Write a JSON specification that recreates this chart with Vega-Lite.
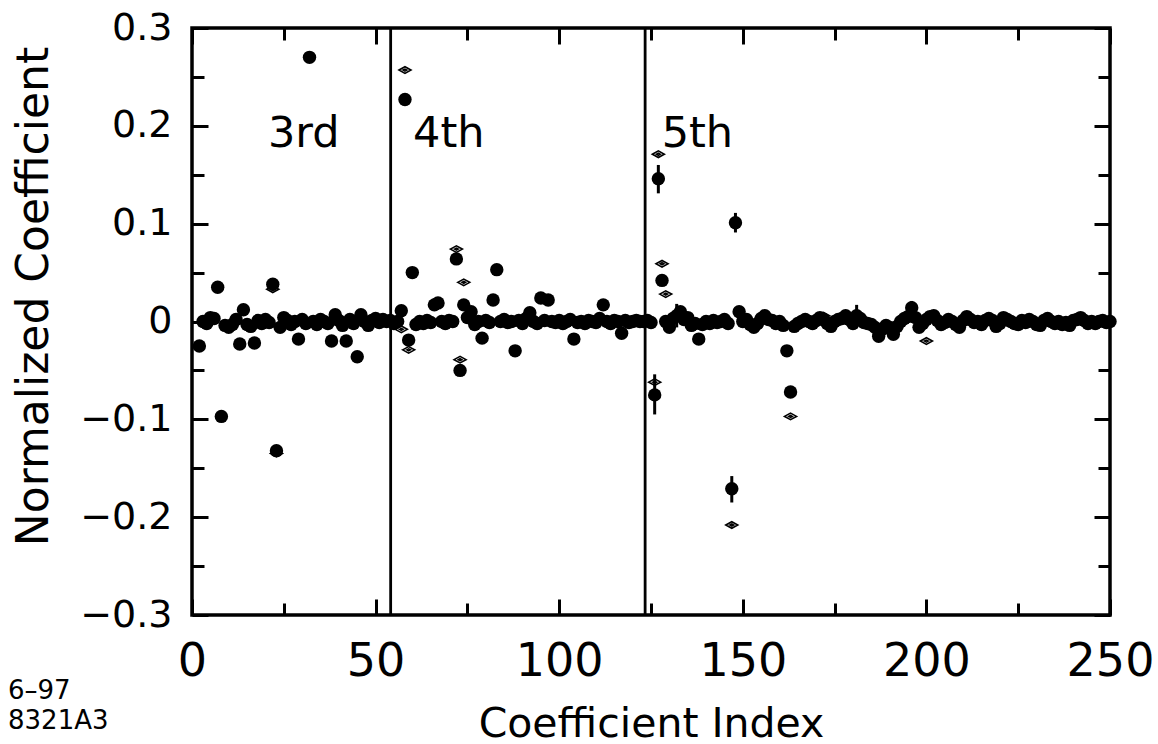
{
"$schema": "https://vega.github.io/schema/vega-lite/v6.json",
"width": 918, "height": 587,
"autosize": "none",
"padding": {"left": 192, "top": 28, "right": 48, "bottom": 129},
"background": "white",
"config": {
  "font": "DejaVu Sans",
  "view": {"stroke": "black", "strokeWidth": 3.5},
  "axis": {"grid": false, "domain": false, "labelColor": "black", "titleColor": "black", "tickColor": "black", "tickWidth": 3, "labelFont": "DejaVu Sans", "titleFont": "DejaVu Sans", "titleFontWeight": "normal", "zindex": 1, "labelFlush": false, "labelOverlap": false, "labelBound": false}
},
"datasets": {
  "coef": [
    {"i":2,"v":-0.025},{"i":3,"v":0.000},{"i":4,"v":-0.002},{"i":5,"v":0.004},{"i":6,"v":0.003},{"i":7,"v":0.035},{"i":8,"v":-0.097},{"i":9,"v":-0.004},{"i":10,"v":-0.006},
    {"i":11,"v":-0.003},{"i":12,"v":0.002},{"i":13,"v":-0.023},{"i":14,"v":0.012},{"i":15,"v":-0.003},{"i":16,"v":-0.005},{"i":17,"v":-0.022},{"i":18,"v":0.001},{"i":19,"v":-0.002},{"i":20,"v":0.002},
    {"i":21,"v":-0.001},{"i":22,"v":0.038},{"i":23,"v":-0.132},{"i":24,"v":-0.006},{"i":25,"v":0.004},{"i":26,"v":0.001},{"i":27,"v":-0.003},{"i":28,"v":0.000},{"i":29,"v":-0.018},{"i":30,"v":0.002},
    {"i":31,"v":-0.002},{"i":32,"v":0.270},{"i":33,"v":0.000},{"i":34,"v":-0.003},{"i":35,"v":0.002},{"i":36,"v":0.000},{"i":37,"v":-0.002},{"i":38,"v":-0.020},{"i":39,"v":0.007},{"i":40,"v":0.001},
    {"i":41,"v":-0.004},{"i":42,"v":-0.020},{"i":43,"v":0.002},{"i":44,"v":-0.002},{"i":45,"v":-0.036},{"i":46,"v":0.007},{"i":47,"v":0.000},{"i":48,"v":-0.004},{"i":49,"v":0.001},{"i":50,"v":0.003},
    {"i":51,"v":-0.001},{"i":52,"v":0.002},{"i":53,"v":0.000},{"i":54,"v":0.001},{"i":55,"v":-0.002},{"i":56,"v":0.000},{"i":57,"v":0.011},{"i":58,"v":0.227},{"i":59,"v":-0.019},{"i":60,"v":0.050},
    {"i":61,"v":-0.003},{"i":62,"v":0.000},{"i":63,"v":-0.002},{"i":64,"v":0.001},{"i":65,"v":-0.001},{"i":66,"v":0.017},{"i":67,"v":0.019},{"i":68,"v":0.000},{"i":69,"v":-0.002},{"i":70,"v":0.001},
    {"i":71,"v":0.000},{"i":72,"v":0.064},{"i":73,"v":-0.050},{"i":74,"v":0.017},{"i":75,"v":0.004},{"i":76,"v":0.010},{"i":77,"v":-0.003},{"i":78,"v":0.000},{"i":79,"v":-0.017},{"i":80,"v":0.001},
    {"i":81,"v":-0.001},{"i":82,"v":0.022},{"i":83,"v":0.053},{"i":84,"v":0.000},{"i":85,"v":0.002},{"i":86,"v":-0.001},{"i":87,"v":0.000},{"i":88,"v":-0.030},{"i":89,"v":0.001},{"i":90,"v":-0.002},
    {"i":91,"v":0.003},{"i":92,"v":0.009},{"i":93,"v":0.000},{"i":94,"v":-0.002},{"i":95,"v":0.024},{"i":96,"v":0.001},{"i":97,"v":0.022},{"i":98,"v":0.000},{"i":99,"v":-0.001},{"i":100,"v":0.001},
    {"i":101,"v":-0.002},{"i":102,"v":0.000},{"i":103,"v":0.002},{"i":104,"v":-0.018},{"i":105,"v":-0.001},{"i":106,"v":0.000},{"i":107,"v":-0.002},{"i":108,"v":0.001},{"i":109,"v":0.000},{"i":110,"v":-0.001},
    {"i":111,"v":0.003},{"i":112,"v":0.017},{"i":113,"v":0.000},{"i":114,"v":-0.002},{"i":115,"v":0.001},{"i":116,"v":0.000},{"i":117,"v":-0.012},{"i":118,"v":0.001},{"i":119,"v":-0.001},{"i":120,"v":0.000},
    {"i":121,"v":0.001},{"i":122,"v":0.000},{"i":123,"v":0.000},{"i":124,"v":0.001},{"i":125,"v":-0.001},
    {"i":126,"v":-0.075,"lo":-0.095,"hi":-0.054},{"i":127,"v":0.146,"lo":0.131,"hi":0.160},{"i":128,"v":0.042},{"i":129,"v":0.000},{"i":130,"v":-0.006},
    {"i":131,"v":0.003},{"i":132,"v":0.006,"lo":-0.006,"hi":0.018},{"i":133,"v":0.010},{"i":134,"v":0.002},{"i":135,"v":0.004},{"i":136,"v":-0.004},{"i":137,"v":-0.002},{"i":138,"v":-0.018},{"i":139,"v":-0.003},{"i":140,"v":0.000},
    {"i":141,"v":-0.002},{"i":142,"v":0.001},{"i":143,"v":-0.001},{"i":144,"v":0.000},{"i":145,"v":0.002},{"i":146,"v":-0.002},{"i":147,"v":-0.171,"lo":-0.185,"hi":-0.158},{"i":148,"v":0.101,"lo":0.091,"hi":0.111},{"i":149,"v":0.010},{"i":150,"v":0.000},
    {"i":151,"v":0.002},{"i":152,"v":-0.003},{"i":153,"v":-0.006},{"i":154,"v":-0.002},{"i":155,"v":0.003},{"i":156,"v":0.006},{"i":157,"v":0.002},{"i":158,"v":0.001},{"i":159,"v":-0.002},{"i":160,"v":0.000},
    {"i":161,"v":-0.004},{"i":162,"v":-0.030},{"i":163,"v":-0.072},{"i":164,"v":-0.005},{"i":165,"v":-0.002},{"i":166,"v":0.000},{"i":167,"v":0.002},{"i":168,"v":0.000},{"i":169,"v":-0.002},{"i":170,"v":0.001},
    {"i":171,"v":0.004},{"i":172,"v":0.002},{"i":173,"v":-0.002},{"i":174,"v":-0.005},{"i":175,"v":0.000},{"i":176,"v":0.002},{"i":177,"v":0.003},{"i":178,"v":0.006},{"i":179,"v":0.002},{"i":180,"v":-0.002},
    {"i":181,"v":0.006,"lo":-0.004,"hi":0.017},{"i":182,"v":0.003},{"i":183,"v":-0.001},{"i":184,"v":-0.002},{"i":185,"v":-0.003},{"i":186,"v":-0.006},{"i":187,"v":-0.015},{"i":188,"v":-0.008},{"i":189,"v":-0.004},{"i":190,"v":-0.006},
    {"i":191,"v":-0.013},{"i":192,"v":-0.005},{"i":193,"v":0.000},{"i":194,"v":0.003},{"i":195,"v":0.005},{"i":196,"v":0.014,"lo":0.006,"hi":0.021},{"i":197,"v":0.004},{"i":198,"v":-0.006},{"i":199,"v":-0.002},{"i":200,"v":0.002},
    {"i":201,"v":0.005},{"i":202,"v":0.006},{"i":203,"v":0.001},{"i":204,"v":-0.003},{"i":205,"v":-0.001},{"i":206,"v":0.002},{"i":207,"v":0.000},{"i":208,"v":-0.003},{"i":209,"v":-0.006},{"i":210,"v":0.001},
    {"i":211,"v":0.005},{"i":212,"v":0.002},{"i":213,"v":-0.001},{"i":214,"v":0.000},{"i":215,"v":-0.003},{"i":216,"v":0.001},{"i":217,"v":0.003},{"i":218,"v":0.001},{"i":219,"v":-0.005},{"i":220,"v":-0.002},
    {"i":221,"v":0.004},{"i":222,"v":0.002},{"i":223,"v":0.000},{"i":224,"v":-0.002},{"i":225,"v":-0.003},{"i":226,"v":0.001},{"i":227,"v":-0.001},{"i":228,"v":0.002},{"i":229,"v":0.000},{"i":230,"v":-0.003},
    {"i":231,"v":-0.004},{"i":232,"v":0.001},{"i":233,"v":0.003},{"i":234,"v":0.000},{"i":235,"v":-0.002},{"i":236,"v":0.000},{"i":237,"v":-0.003},{"i":238,"v":-0.001},{"i":239,"v":-0.004},{"i":240,"v":0.001},
    {"i":241,"v":0.002},{"i":242,"v":0.004},{"i":243,"v":0.001},{"i":244,"v":-0.002},{"i":245,"v":0.000},{"i":246,"v":-0.002},{"i":247,"v":0.000},{"i":248,"v":0.001},{"i":249,"v":-0.001},{"i":250,"v":0.000}
  ],
  "alt": [
    {"i":22,"v":0.033},{"i":23,"v":-0.135},{"i":57,"v":-0.008},{"i":58,"v":0.257},{"i":59,"v":-0.029},{"i":72,"v":0.074},{"i":73,"v":-0.039},{"i":74,"v":0.040},
    {"i":126,"v":-0.062},{"i":127,"v":0.171},{"i":128,"v":0.059},{"i":129,"v":0.028},{"i":147,"v":-0.208},{"i":163,"v":-0.097},{"i":172,"v":0.006},{"i":200,"v":-0.020}
  ],
  "sep": [{"i":54.1},{"i":123.4}],
  "labels": [{"label":"3rd","i":20.7,"v":0.178},{"label":"4th","i":60.2,"v":0.178},{"label":"5th","i":127.9,"v":0.178}],
  "foot": [{"label":"6–97","i":-50.1,"v":-0.386},{"label":"8321A3","i":-50.1,"v":-0.4166}]
},
"layer": [
  {
    "data": {"name": "sep"},
    "mark": {"type": "rule", "color": "black", "strokeWidth": 2.8},
    "encoding": {
      "x": {"field": "i", "type": "quantitative", "scale": {"domain": [0, 250], "nice": false, "zero": false}, "axis": null}
    }
  },
  {
    "data": {"name": "alt"},
    "mark": {"type": "point", "shape": "M -1 0 L 0 -0.55 L 1 0 L 0 0.55 Z M -0.3 0 L 0 -0.17 L 0.3 0 L 0 0.17 Z", "size": 144, "fill": "white", "stroke": "black", "strokeWidth": 1.6, "opacity": 1},
    "encoding": {
      "x": {"field": "i", "type": "quantitative", "scale": {"domain": [0, 250], "nice": false, "zero": false},
        "axis": {"orient": "bottom", "values": [0, 50, 100, 150, 200, 250], "format": "d", "ticks": false, "labelFontSize": 46, "labelBaseline": "alphabetic", "labelPadding": 60,
          "title": "Coefficient Index", "titleFontSize": 41, "titleX": 459, "titleY": 121, "titleAlign": "center", "titleBaseline": "alphabetic"}},
      "y": {"field": "v", "type": "quantitative", "scale": {"domain": [-0.3, 0.3], "nice": false, "zero": false},
        "axis": {"orient": "left", "values": [-0.3, -0.2, -0.1, 0, 0.1, 0.2, 0.3], "format": ".1~f", "ticks": false, "labelFontSize": 38, "labelBaseline": "middle", "labelPadding": 20,
          "title": "Normalized Coefficient", "titleFontSize": 44, "titleX": -145, "titleY": 268, "titleAlign": "center", "titleBaseline": "alphabetic", "titleAngle": -90}}
    }
  },
  {
    "data": {"name": "coef"},
    "transform": [{"filter": "isValid(datum.lo)"}],
    "mark": {"type": "rule", "color": "black", "strokeWidth": 3},
    "encoding": {
      "x": {"field": "i", "type": "quantitative", "scale": {"domain": [0, 250], "nice": false, "zero": false},
        "axis": {"orient": "top", "values": [0, 50, 100, 150, 200, 250], "labels": false, "tickSize": -16, "title": null}},
      "y": {"field": "lo", "type": "quantitative", "scale": {"domain": [-0.3, 0.3], "nice": false, "zero": false},
        "axis": {"orient": "right", "values": [-0.3, -0.2, -0.1, 0, 0.1, 0.2, 0.3], "labels": false, "tickSize": -16, "title": null}},
      "y2": {"field": "hi"}
    }
  },
  {
    "data": {"name": "coef"},
    "mark": {"type": "circle", "size": 180, "color": "black", "opacity": 1},
    "encoding": {
      "x": {"field": "i", "type": "quantitative", "scale": {"domain": [0, 250], "nice": false, "zero": false},
        "axis": {"orient": "bottom", "values": [0, 50, 100, 150, 200, 250], "labels": false, "tickSize": -16, "title": null}},
      "y": {"field": "v", "type": "quantitative", "scale": {"domain": [-0.3, 0.3], "nice": false, "zero": false},
        "axis": {"orient": "left", "values": [-0.3, -0.2, -0.1, 0, 0.1, 0.2, 0.3], "labels": false, "tickSize": -16, "title": null}}
    }
  },
  {
    "data": {"name": "labels"},
    "mark": {"type": "text", "align": "left", "baseline": "alphabetic", "fontSize": 43, "font": "DejaVu Sans", "color": "black"},
    "encoding": {
      "x": {"field": "i", "type": "quantitative", "scale": {"domain": [0, 250], "nice": false, "zero": false},
        "axis": {"orient": "bottom", "values": [25, 75, 125, 175, 225], "labels": false, "tickSize": -12, "title": null}},
      "y": {"field": "v", "type": "quantitative", "scale": {"domain": [-0.3, 0.3], "nice": false, "zero": false},
        "axis": {"orient": "left", "values": [-0.25, -0.15, -0.05, 0.05, 0.15, 0.25], "labels": false, "tickSize": -12, "title": null}},
      "text": {"field": "label"}
    }
  },
  {
    "data": {"name": "foot"},
    "mark": {"type": "text", "align": "left", "baseline": "alphabetic", "fontSize": 26, "font": "DejaVu Sans", "color": "black"},
    "encoding": {
      "x": {"field": "i", "type": "quantitative", "scale": {"domain": [0, 250], "nice": false, "zero": false},
        "axis": {"orient": "top", "values": [25, 75, 125, 175, 225], "labels": false, "tickSize": -12, "title": null}},
      "y": {"field": "v", "type": "quantitative", "scale": {"domain": [-0.3, 0.3], "nice": false, "zero": false},
        "axis": {"orient": "right", "values": [-0.25, -0.15, -0.05, 0.05, 0.15, 0.25], "labels": false, "tickSize": -12, "title": null}},
      "text": {"field": "label"}
    }
  }
],
"resolve": {"axis": {"x": "independent", "y": "independent"}}
}
